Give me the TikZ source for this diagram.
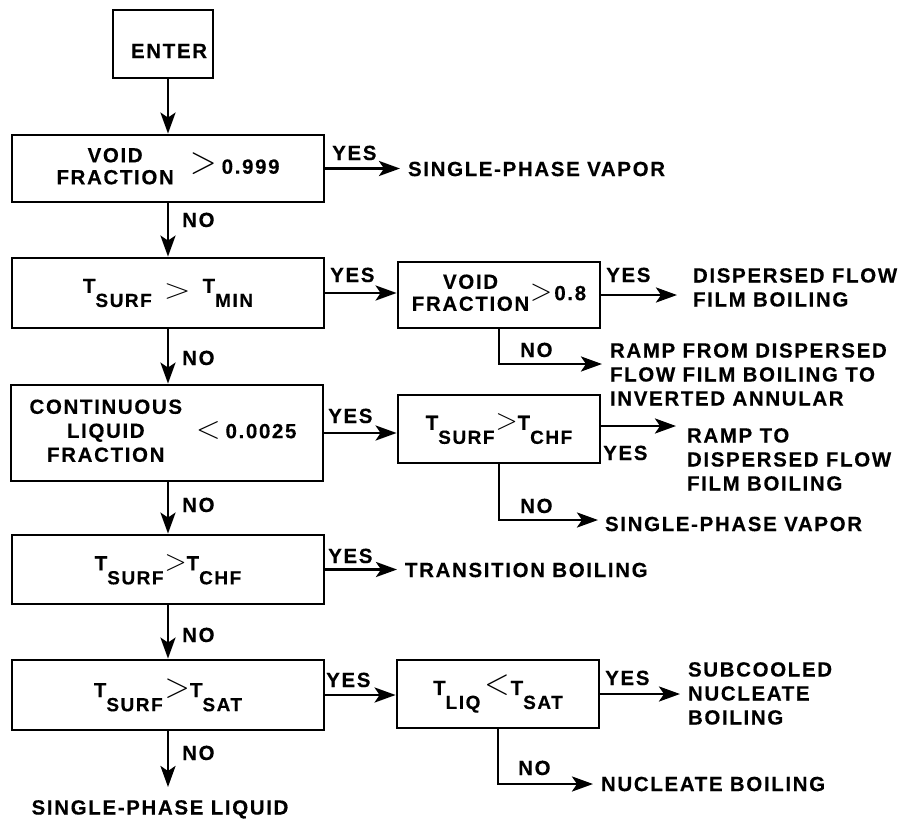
\documentclass[tikz,border=0pt]{standalone}
\usepackage{fontspec}
\usepackage{graphicx}
\setmainfont{Liberation Sans}[LetterSpace=8,FakeBold=0.3]
\usetikzlibrary{arrows.meta}
\newcommand\Tsb[1]{T\raisebox{-14pt}{\fontsize{19}{19}\selectfont#1}}
\newcommand\relsym[3]{\scalebox{#1}[#2]{$#3$}}
\begin{document}
\begin{tikzpicture}[x=1pt,y=-1pt,
  font=\fontsize{20.5}{24}\selectfont\bfseries,
  box/.style={draw, line width=2.8pt, inner sep=0pt, align=center},
  arr/.style={line width=2.8pt, -{Stealth[length=21pt,width=15pt,inset=5pt]}},
  txt/.style={inner sep=0pt, outer xsep=8pt, align=left},
  yn/.style={inner sep=0pt, anchor=base west}]
\useasboundingbox (0,0) rectangle (906,820);

% boxes
\node[box, minimum width=100pt, minimum height=68pt] (enter) at (163,44)
  {\raisebox{-14pt}[0pt][0pt]{\hspace*{12pt}ENTER}};
\node[box, minimum width=312pt, minimum height=67pt] (b1) at (168,168.5)
  {\begin{tabular}[c]{@{}c@{}}VOID\\[-2pt]FRACTION\end{tabular}\hspace{16pt}\relsym{1.7}{1.9}{>}\hspace{5pt}0.999};
\node[box, minimum width=312pt, minimum height=70pt] (b2) at (168,293)
  {\Tsb{SURF}\hspace{12pt}\raisebox{-6pt}{\relsym{1.7}{1.35}{>}}\hspace{12pt}\Tsb{MIN}};
\node[box, minimum width=202pt, minimum height=66pt] (b3) at (499,295)
  {\begin{tabular}[c]{@{}c@{}}VOID\\[-2pt]FRACTION\end{tabular}\hspace{1pt}\relsym{1.4}{1.5}{>}\hspace{2pt}0.8};
\node[box, minimum width=312pt, minimum height=96pt] (b4) at (167,433)
  {\begin{tabular}[c]{@{}c@{}}CONTINUOUS\\LIQUID\\FRACTION\end{tabular}\hspace{14pt}\relsym{1.55}{1.55}{<}\hspace{5pt}0.0025\hspace*{8pt}};
\node[box, minimum width=202pt, minimum height=68pt] (b5) at (499,429)
  {\Tsb{SURF}\hspace{1pt}\relsym{1.4}{1.45}{>}\Tsb{CHF}};
\node[box, minimum width=312pt, minimum height=69pt] (b6) at (168,569.5)
  {\Tsb{SURF}\hspace{1pt}\relsym{1.4}{1.45}{>}\Tsb{CHF}};
\node[box, minimum width=312pt, minimum height=70pt] (b7) at (168,695)
  {\Tsb{SURF}\hspace{2pt}\relsym{1.6}{1.7}{>}\Tsb{SAT}};
\node[box, minimum width=202pt, minimum height=68pt] (b8) at (498,694)
  {\Tsb{LIQ}\hspace{4pt}\relsym{1.6}{1.8}{<}\hspace{1pt}\Tsb{SAT}};

% result texts
\node[txt, anchor=west] (t1) at (400,169) {SINGLE-PHASE VAPOR};
\node[txt, anchor=north west, outer xsep=16pt] (t3) at (677,268) {DISPERSED FLOW\\FILM BOILING};
\node[txt, anchor=north west] (t3b) at (602,343) {RAMP FROM DISPERSED\\FLOW FILM BOILING TO\\INVERTED ANNULAR};
\node[txt, anchor=north west, outer xsep=11pt] (t5) at (676,428) {RAMP TO\\DISPERSED FLOW\\FILM BOILING};
\node[txt, anchor=west] (t5b) at (597,524) {SINGLE-PHASE VAPOR};
\node[txt, anchor=west] (t6) at (397,570) {TRANSITION BOILING};
\node[txt, anchor=north west] (t8a) at (680,662) {SUBCOOLED\\NUCLEATE\\BOILING};
\node[txt, anchor=west] (t8b) at (593,784) {NUCLEATE BOILING};
\node[inner sep=0pt, anchor=north] (t7) at (160,800) {SINGLE-PHASE LIQUID};

% free arrow ends
\coordinate (c3) at (602,364);
\coordinate (c5) at (676,426);
\coordinate (c5b) at (598,520);
\coordinate (c7) at (168,787);

% connectors
\draw[arr] (enter.south -| b1.north) -- (b1.north);
\draw[arr] (b1.east) -- (b1.east -| t1.west);
\draw[arr] (b1.south) -- (b2.north);
\draw[arr] (b2.east) -- (b2.east -| b3.west);
\draw[arr] (b3.east) -- (b3.east -| t3.west);
\draw[arr] (b3.south) |- (c3);
\draw[arr] (b2.south) -- (b4.north -| b2.south);
\draw[arr] (b4.east) -- (b4.east -| b5.west);
\draw[arr] (b5.east |- c5) -- (c5);
\draw[arr] (b5.south) |- (c5b);
\draw[arr] (b4.south -| b6.north) -- (b6.north);
\draw[arr] (b6.east) -- (b6.east -| t6.west);
\draw[arr] (b6.south) -- (b7.north);
\draw[arr] (b7.east) -- (b7.east -| b8.west);
\draw[arr] (b8.east) -- (b8.east -| t8a.west);
\draw[arr] (b8.south) |- (t8b.west);
\draw[arr] (b7.south) -- (c7);

% yes / no labels
\node[yn] (y1) at (332,160) {YES};
\node[yn] (n1) at (182,227) {NO};
\node[yn] (y2) at (330,282) {YES};
\node[yn] (n2) at (182,365) {NO};
\node[yn] (y3) at (606,282) {YES};
\node[yn] (n3) at (520,357) {NO};
\node[yn] (y4) at (328,423) {YES};
\node[yn] (n4) at (182,512) {NO};
\node[yn] (y5) at (603,460) {YES};
\node[yn] (n5) at (520,513) {NO};
\node[yn] (y6) at (328,563) {YES};
\node[yn] (n6) at (182,642) {NO};
\node[yn] (y7) at (326,687) {YES};
\node[yn] (n7) at (182,760) {NO};
\node[yn] (y8) at (605,685) {YES};
\node[yn] (n8) at (518,775) {NO};
\end{tikzpicture}
\end{document}
